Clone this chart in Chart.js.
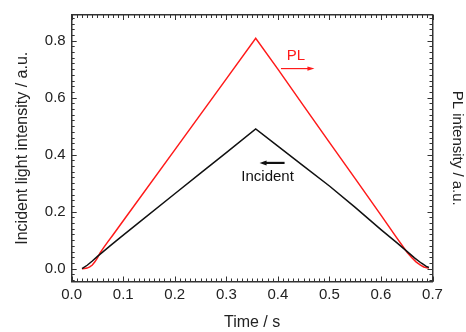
<!DOCTYPE html>
<html><head><meta charset="utf-8">
<script src="https://cdn.jsdelivr.net/npm/chart.js@4/dist/chart.umd.min.js"></script>
<style>html,body{margin:0;padding:0;background:#fff}</style>
</head><body>
<canvas id="c" width="466" height="332" style="display:block;width:466px;height:332px"></canvas>
<script>
// ---- data ----
const incidentTime  = [0.020,0.030,0.040,0.050,0.060,0.075,0.094,0.132,0.200,0.250,0.300,0.357,0.400,0.450,0.500,0.550,0.600,0.630,0.651,0.665,0.678,0.688,0.693];
const incidentValue = [0.000,0.012,0.027,0.043,0.058,0.081,0.109,0.164,0.263,0.335,0.407,0.490,0.430,0.360,0.290,0.215,0.137,0.092,0.060,0.038,0.020,0.008,0.004];
const plTime  = [0.020,0.025,0.030,0.035,0.040,0.045,0.050,0.055,0.062,0.070,0.080,0.100,0.200,0.300,0.357,0.400,0.450,0.500,0.550,0.600,0.630,0.651,0.660,0.668,0.676,0.683,0.689,0.693];
const plValue = [0.000,0.001,0.002,0.006,0.013,0.024,0.038,0.055,0.074,0.094,0.118,0.168,0.417,0.666,0.808,0.700,0.571,0.443,0.316,0.188,0.110,0.057,0.038,0.024,0.013,0.006,0.003,0.002];
const xTickLabels = [0.0,0.1,0.2,0.3,0.4,0.5,0.6,0.7];
const yTickLabels = [0.0,0.2,0.4,0.6,0.8];

const FONT = '"Liberation Sans", Arial, Helvetica, sans-serif';
const toXY = (xs, ys) => xs.map((x,i)=>({x, y: ys[i]}));

const inwardTicks = {
  id: 'inwardTicks',
  afterDraw(chart) {
    const {ctx, chartArea:a, scales:{x, y}} = chart;
    ctx.save();
    ctx.strokeStyle = '#333'; ctx.lineWidth = 1;
    ctx.beginPath();
    for (let i = 0; i <= 70; i++) {
      const v = i / 100, px = Math.round(x.getPixelForValue(v)) + 0.5;
      const len = (i % 10 === 0) ? 5 : 3;
      ctx.moveTo(px, a.bottom); ctx.lineTo(px, a.bottom - len);
      ctx.moveTo(px, a.top); ctx.lineTo(px, a.top + len);
    }
    for (let i = -2; i <= 44; i++) {
      const v = i / 50, py = Math.round(y.getPixelForValue(v)) + 0.5;
      if (py < a.top || py > a.bottom) continue;
      const len = (i % 10 === 0) ? 5 : 3;
      ctx.moveTo(a.left, py); ctx.lineTo(a.left + len, py);
      ctx.moveTo(a.right, py); ctx.lineTo(a.right - len, py);
    }
    ctx.stroke();
    ctx.restore();
  }
};

const annotations = {
  id: 'annotations',
  afterDatasetsDraw(chart) {
    const {ctx, scales:{x, y}} = chart;
    ctx.save();
    ctx.fillStyle = '#ff1a1a'; ctx.strokeStyle = '#ff1a1a';
    ctx.font = '15px ' + FONT; ctx.textAlign = 'center'; ctx.textBaseline = 'middle';
    ctx.fillText('PL', x.getPixelForValue(0.435), y.getPixelForValue(0.748));
    let x0 = x.getPixelForValue(0.406), x1 = x.getPixelForValue(0.471), yy = y.getPixelForValue(0.702);
    ctx.lineWidth = 1.2;
    ctx.beginPath(); ctx.moveTo(x0, yy); ctx.lineTo(x1 - 4, yy); ctx.stroke();
    ctx.beginPath(); ctx.moveTo(x1, yy); ctx.lineTo(x1 - 7, yy - 2.2); ctx.lineTo(x1 - 7, yy + 2.2); ctx.closePath(); ctx.fill();
    ctx.fillStyle = '#111'; ctx.strokeStyle = '#111';
    ctx.fillText('Incident', x.getPixelForValue(0.380), y.getPixelForValue(0.322));
    x0 = x.getPixelForValue(0.3645); x1 = x.getPixelForValue(0.413); yy = y.getPixelForValue(0.371);
    ctx.lineWidth = 2.2;
    ctx.beginPath(); ctx.moveTo(x0 + 4, yy); ctx.lineTo(x1, yy); ctx.stroke();
    ctx.beginPath(); ctx.moveTo(x0, yy); ctx.lineTo(x0 + 7, yy - 2.5); ctx.lineTo(x0 + 7, yy + 2.5); ctx.closePath(); ctx.fill();
    ctx.restore();
  }
};

const tickFont = {family: FONT, size: 15};

new Chart(document.getElementById('c'), {
  type: 'line',
  data: {
    datasets: [
      {label: 'Incident', data: toXY(incidentTime, incidentValue), borderColor: '#111', borderWidth: 1.5, pointRadius: 0, tension: 0, fill: false, xAxisID: 'x', yAxisID: 'y'},
      {label: 'PL', data: toXY(plTime, plValue), borderColor: '#ff1a1a', borderWidth: 1.5, pointRadius: 0, tension: 0, fill: false, xAxisID: 'x', yAxisID: 'y'}
    ]
  },
  options: {
    responsive: false, animation: false, devicePixelRatio: 1,
    layout: {padding: 0},
    plugins: {legend: {display: false}, tooltip: {enabled: false}},
    scales: {
      x: {type: 'linear', position: 'bottom', min: 0, max: 0.7,
          afterBuildTicks: s => { s.ticks = xTickLabels.map(v => ({value: v})); },
          afterFit: s => { s.height = 50.5; },
          ticks: {font: tickFont, color: '#222', padding: 4, maxRotation: 0, callback: v => v.toFixed(1)},
          grid: {display: false, drawTicks: false},
          border: {display: true, color: '#333', width: 1.5},
          title: {display: true, text: 'Time / s', font: {family: FONT, size: 16}, color: '#222', padding: {top: 2, bottom: 0}}},
      x2: {type: 'linear', position: 'top', min: 0, max: 0.7, display: true,
          afterFit: s => { s.height = 10.7; },
          ticks: {display: false}, grid: {display: false, drawTicks: false},
          border: {display: true, color: '#333', width: 1.5}},
      y: {type: 'linear', position: 'left', min: -0.045, max: 0.89,
          afterBuildTicks: s => { s.ticks = yTickLabels.map(v => ({value: v})); },
          afterFit: s => { s.width = 71.7; },
          ticks: {font: tickFont, color: '#222', padding: 6, callback: v => v.toFixed(1)},
          grid: {display: false, drawTicks: false},
          border: {display: true, color: '#333', width: 1.5},
          title: {display: true, text: 'Incident light intensity / a.u.', font: {family: FONT, size: 16}, color: '#222', padding: {top: 13, bottom: 0}}},
      y2: {type: 'linear', position: 'right', min: -0.045, max: 0.89, display: true,
          afterFit: s => { s.width = 33.5; },
          ticks: {display: false}, grid: {display: false, drawTicks: false},
          border: {display: true, color: '#333', width: 1.5},
          title: {display: true, text: 'PL intensity / a.u.', font: {family: FONT, size: 15}, color: '#222', padding: {top: 0, bottom: 6}}}
    }
  },
  plugins: [inwardTicks, annotations]
});
</script>
</body></html>
